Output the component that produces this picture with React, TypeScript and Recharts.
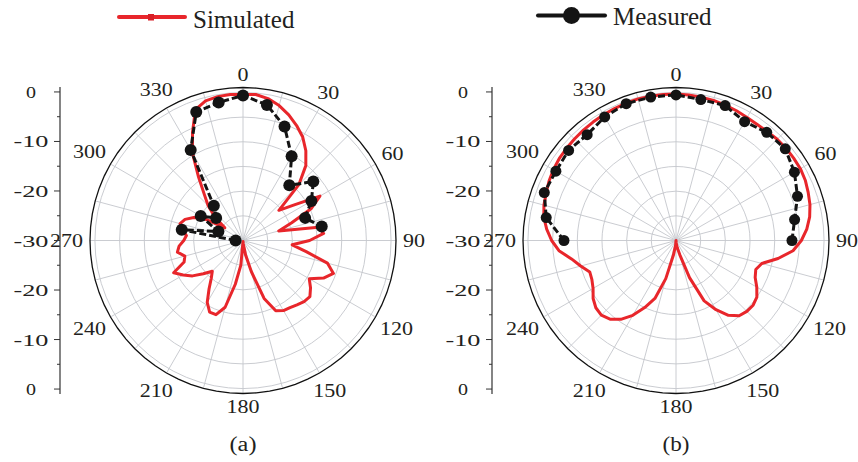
import React from 'react';
import {
  RadarChart,
  Radar,
  PolarGrid,
  PolarAngleAxis,
  PolarRadiusAxis,
  ComposedChart,
  XAxis,
  YAxis,
} from 'recharts';

// angle categories, every 5 degrees, 0 at the top, clockwise
const angles = [
  0, 5, 10, 15, 20, 25, 30, 35, 40, 45, 50, 55, 60, 65, 70, 75, 80, 85,
  90, 95, 100, 105, 110, 115, 120, 125, 130, 135, 140, 145, 150, 155, 160, 165, 170, 175,
  180, 185, 190, 195, 200, 205, 210, 215, 220, 225, 230, 235, 240, 245, 250, 255, 260, 265,
  270, 275, 280, 285, 290, 295, 300, 305, 310, 315, 320, 325, 330, 335, 340, 345, 350, 355,
];

// (a) simulated pattern, dB
const simA = [
  -0.4, -0.3, -0.8, -1.7, -2.9, -4.3, -5.8, -7.8, -10.2, -14, -20.5, -17.5, -12, -14.8, -19.5, -22.5, -14.5, -13.6,
  -16.5, -20, -17, -12.3, -10.5, -12, -14.5, -13.3, -12.3, -12.5, -13, -13.4, -13.6, -14.3, -17.5, -23.5, -27, -29.3,
  -29.8, -25, -21, -16, -14, -14, -15.5, -18, -20, -21.2, -19.5, -17.5, -16, -14.5, -17.3, -17.8, -16.5, -17,
  -18, -18.5, -17.5, -16.8, -17.5, -19, -21.5, -25.5, -22.5, -20, -17.8, -14.3, -9.5, -5.8, -1.8, -0.7, -0.4, -0.3,
];

// (a) measured points
const measAAngles = [270, 280, 290, 300, 310, 320, 330, 340, 350, 0, 10, 20, 30, 40, 50, 60, 70, 80];
const measAValues = [-28.5, -17.4, -24.7, -20.1, -22.9, -20.8, -8.8, -2.3, -1.6, -0.6, -2.1, -5.4, -10.3, -15.4, -11.4, -14, -16.6, -13.8];

// (b) simulated pattern, dB
const simB = [
  -0.3, -0.4, -0.5, -0.6, -0.8, -1.0, -1.2, -1.3, -1.2, -1.0, -0.9, -0.9, -0.9, -1.1, -1.5, -1.9, -2.5, -3.4,
  -4.6, -6.2, -9.0, -12.0, -12.8, -12.3, -11.1, -10.0, -9.6, -9.7, -10.1, -11.5, -13.8, -16.5, -22.0, -27.0, -28.5, -29.5,
  -30, -29, -27, -22, -17.5, -15, -12.5, -10.5, -9.2, -8.6, -8.8, -9.5, -10.6, -11.2, -11.4, -10, -8.5, -6.2,
  -4.8, -3.7, -2.8, -2.3, -2.0, -1.6, -1.3, -1.1, -1.0, -0.9, -0.8, -0.7, -0.6, -0.5, -0.4, -0.3, -0.3, -0.3,
];

// (b) measured points
const measBAngles = [270, 280, 290, 300, 310, 320, 330, 340, 350, 0, 10, 20, 30, 40, 50, 60, 70, 80, 90];
const measBValues = [-7.3, -3.3, -1.6, -1.9, -1.6, -2.0, -1.1, -0.5, -0.5, -0.5, -1.0, -0.9, -2.2, -1.4, -1.1, -2.3, -3.8, -5.6, -6.5];

const spokeAngles = [0, 15, 30, 45, 60, 75, 90, 105, 120, 135, 150, 165, 180, 195, 210, 225, 240, 255, 270, 285, 300, 315, 330, 345];
const ringTicks = [-30, -25, -20, -15, -10, -5, 0];
const dbTicks = [-30, -25, -20, -15, -10, -5, 0, 5, 10, 15, 20, 25, 30];

const RED = '#e8262b';
const INK = '#231f20';
const FONT = '"Liberation Serif", "Times New Roman", serif';

type Row = { angle: number; sim: number; meas: number | null };

const buildRows = (sim: number[], mAngles: number[], mVals: number[]): Row[] =>
  angles.map((a, i) => {
    const k = mAngles.indexOf(a);
    return { angle: a, sim: sim[i], meas: k >= 0 ? mVals[k] : null };
  });

const rowsA = buildRows(simA, measAAngles, measAValues);
const rowsB = buildRows(simB, measBAngles, measBValues);
const axisRows = dbTicks.map(v => ({ v }));

// angle labels only every 30 degrees, pushed out so the box clears the rim
const AngleTick = (props: any) => {
  const { x, y, payload } = props;
  const v = Number(payload.value);
  if (v % 30 !== 0) return null;
  const s = String(v);
  const w = s.length * 11;
  const h = 12;
  const rad = (payload.coordinate * Math.PI) / 180;
  const c = Math.cos(rad);
  const sn = Math.sin(rad);
  const off = (w / 2) * Math.abs(c) + (h / 2) * Math.abs(sn);
  return (
    <text
      x={x + off * c}
      y={y - off * sn}
      textAnchor="middle"
      dominantBaseline="central"
      fontFamily={FONT}
      fontSize={18}
      fill={INK}
      textLength={w}
      lengthAdjust="spacingAndGlyphs"
    >
      {s}
    </text>
  );
};

const AXIS_X = 60;

// mirrored dB ruler: 0 at both ends, -30 at the pole
const DbTick = (props: any) => {
  const { y, payload } = props;
  const v = Number(payload.value);
  const major = v % 10 === 0;
  const label = String(Math.abs(v) - 30);
  return (
    <g>
      <line x1={AXIS_X - (major ? 6 : 3)} x2={AXIS_X} y1={y} y2={y} stroke="#333" strokeWidth={1} />
      {major && (
        <text
          x={AXIS_X - 29}
          y={y + 6}
          textAnchor="middle"
          fontFamily={FONT}
          fontSize={17}
          fill={INK}
          textLength={label.length > 1 ? 35 : 10}
          lengthAdjust="spacingAndGlyphs"
        >
          {label}
        </text>
      )}
    </g>
  );
};

// room above/below the ruler so the end labels are not clipped
const PAD = 15;

const DbAxis = ({ left }: { left: number }) => (
  <div style={{ position: 'absolute', left, top: 87 - PAD }}>
    <ComposedChart width={70} height={307 + 2 * PAD} data={axisRows} margin={{ top: PAD, right: 0, bottom: PAD, left: 0 }}>
      <XAxis dataKey="v" hide />
      <YAxis
        type="number"
        domain={[-31, 31]}
        ticks={dbTicks}
        interval={0}
        width={AXIS_X}
        allowDataOverflow
        axisLine={{ stroke: '#333', strokeWidth: 1.2 }}
        tickLine={false}
        tick={<DbTick />}
      />
    </ComposedChart>
  </div>
);

// measured trace is open: keep the measured points and start after the widest gap
const openTrace = (dotR: number) => (props: any) => {
  const pts: any[] = props.points || [];
  const n = pts.length;
  const idx: number[] = [];
  pts.forEach((p, i) => {
    if (p && p.payload && p.payload.meas != null && Number.isFinite(p.x) && Number.isFinite(p.y)) idx.push(i);
  });
  if (!idx.length) return <g />;
  let best = 0;
  let bestGap = -1;
  idx.forEach((v, k) => {
    const prev = idx[(k - 1 + idx.length) % idx.length];
    const gap = (v - prev + n) % n;
    if (gap > bestGap) {
      bestGap = gap;
      best = k;
    }
  });
  const seq = idx.map((_, k) => pts[idx[(best + k) % idx.length]]);
  const d = seq.map((p, i) => `${i ? 'L' : 'M'}${p.x},${p.y}`).join('');
  return (
    <g>
      <path d={d} fill="none" stroke="#141414" strokeWidth={3} strokeDasharray="7 3" strokeLinejoin="round" />
      {seq.map((p, i) => (
        <circle key={i} cx={p.x} cy={p.y} r={dotR} fill="#141414" />
      ))}
    </g>
  );
};

const PolarPanel = ({ rows, left, dotR }: { rows: Row[]; left: number; dotR: number }) => (
  <div style={{ position: 'absolute', left, top: 40 }}>
    <RadarChart
      width={400}
      height={400}
      cx={200}
      cy={200.5}
      outerRadius={153}
      data={rows}
      margin={{ top: 0, right: 0, bottom: 0, left: 0 }}
      startAngle={90}
      endAngle={-270}
    >
      <PolarGrid gridType="circle" polarAngles={spokeAngles.map(d => 90 - d)} stroke="#c4c6cc" strokeWidth={0.9} />
      <PolarAngleAxis
        dataKey="angle"
        tickLine={false}
        tickSize={7}
        axisLine={{ stroke: '#111', strokeWidth: 1.3 }}
        tick={<AngleTick />}
      />
      <PolarRadiusAxis
        type="number"
        domain={[-30, 0.6]}
        ticks={ringTicks}
        allowDataOverflow
        axisLine={false}
        tick={false}
      />
      <Radar
        dataKey="sim"
        stroke={RED}
        strokeWidth={3}
        strokeLinejoin="round"
        fill="none"
        fillOpacity={0}
        dot={false}
        isAnimationActive={false}
      />
      <Radar
        dataKey="meas"
        stroke="#141414"
        fill="none"
        fillOpacity={0}
        dot={false}
        shape={openTrace(dotR)}
        isAnimationActive={false}
      />
    </RadarChart>
  </div>
);

export default function App() {
  return (
    <div
      style={{
        position: 'absolute',
        left: 0,
        top: 0,
        width: 858,
        height: 462,
        overflow: 'hidden',
        background: '#fff',
      }}
    >
      <PolarPanel rows={rowsA} left={43} dotR={6} />
      <PolarPanel rows={rowsB} left={476} dotR={5.5} />
      <DbAxis left={0} />
      <DbAxis left={432} />

      {/* legend + sub-captions */}
      <svg width={858} height={462} style={{ position: 'absolute', left: 0, top: 0, pointerEvents: 'none' }}>
        <line x1={119} x2={185} y1={17} y2={17} stroke={RED} strokeWidth={4} strokeLinecap="round" />
        <rect x={148} y={14} width={6} height={6.5} fill="#d81f26" />
        <text x={193} y={28} fontFamily={FONT} fontSize={25} fill={INK}>Simulated</text>

        <line x1={538} x2={605} y1={15.5} y2={15.5} stroke="#141414" strokeWidth={4} strokeLinecap="round" />
        <circle cx={571.5} cy={15.5} r={8.5} fill="#141414" />
        <text x={613} y={25} fontFamily={FONT} fontSize={25} fill={INK}>Measured</text>

        <text x={243} y={451} textAnchor="middle" fontFamily={FONT} fontSize={20} fill={INK} textLength={27} lengthAdjust="spacingAndGlyphs">(a)</text>
        <text x={676} y={451} textAnchor="middle" fontFamily={FONT} fontSize={20} fill={INK} textLength={27} lengthAdjust="spacingAndGlyphs">(b)</text>
      </svg>
    </div>
  );
}
